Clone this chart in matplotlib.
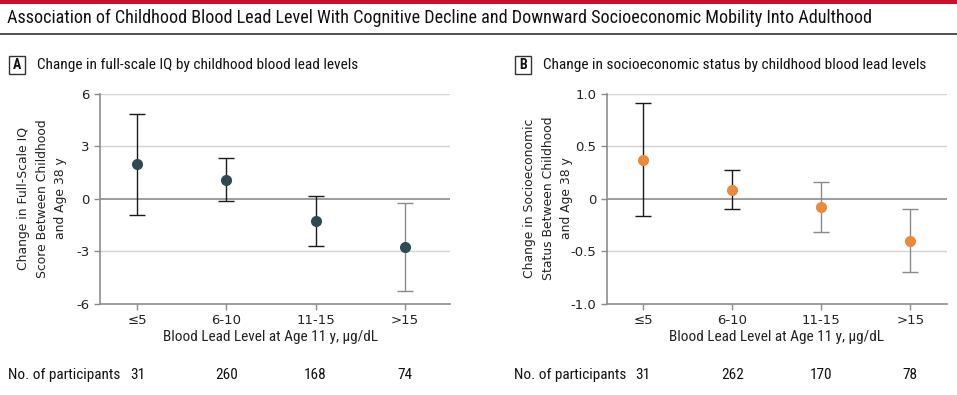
import matplotlib
matplotlib.use("Agg")
import matplotlib.pyplot as plt
from matplotlib import font_manager as fm
from matplotlib.patches import Rectangle
from matplotlib.lines import Line2D

# ---------------- data ----------------
categories = ["≤5", "6-10", "11-15", ">15"]

iq_est = [2.0, 1.1, -1.26, -2.74]
iq_low = [-0.91, -0.15, -2.67, -5.24]
iq_high = [4.86, 2.34, 0.17, -0.23]
iq_n = [31, 260, 168, 74]
iq_ticks = [-6, -3, 0, 3, 6]
iq_ticklabels = ["-6", "-3", "0", "3", "6"]

ses_est = [0.374, 0.086, -0.08, -0.40]
ses_low = [-0.16, -0.095, -0.32, -0.70]
ses_high = [0.91, 0.27, 0.16, -0.095]
ses_n = [31, 262, 170, 78]
ses_ticks = [-1.0, -0.5, 0, 0.5, 1.0]
ses_ticklabels = ["-1.0", "-0.5", "0", "0.5", "1.0"]

title = "Association of Childhood Blood Lead Level With Cognitive Decline and Downward Socioeconomic Mobility Into Adulthood"
panel_a_title = "Change in full-scale IQ by childhood blood lead levels"
panel_b_title = "Change in socioeconomic status by childhood blood lead levels"
xlabel = "Blood Lead Level at Age 11 y, μg/dL"
ylabel_a = "Change in Full-Scale IQ\nScore Between Childhood\nand Age 38 y"
ylabel_b = "Change in Socioeconomic\nStatus Between Childhood\nand Age 38 y"

# ---------------- fonts ----------------
names = {f.name for f in fm.fontManager.ttflist}
cond = "Liberation Sans"
for cand in ["Roboto Condensed", "Liberation Sans Narrow", "Open Sans Condensed", "DejaVu Sans Condensed"]:
    if cand in names:
        cond = cand
        break
tickfont = "DejaVu Sans"

W, H = 957, 395
fig = plt.figure(figsize=(W / 100, H / 100), dpi=100)

def fx(px):
    return px / W

def fy(py):
    return 1 - py / H

# top red bar and title rule
fig.add_artist(Rectangle((0, fy(4)), 1, 4 / H, transform=fig.transFigure,
                         color="#c8102e", lw=0))
fig.add_artist(Line2D([0, 1], [fy(34), fy(34)], transform=fig.transFigure,
                      color="#333333", lw=1.2))
fig.text(fx(7), fy(18), title, family=cond, fontsize=13.1, va="center", ha="left",
         color="#111111")

grid_c = "#d4d4d4"
zero_c = "#8c8c8c"
spine_c = "#8c8c8c"

def panel(left_px, right_px, xlim, est, low, high, ticks, ticklabels, ylim,
          mcolor, barcolors, ylabel, ylabel_x, letter, ptitle, box_x, ns, npart_x):
    ax = fig.add_axes([fx(left_px), fy(304), fx(right_px - left_px), (304 - 93.7) / H])
    x = list(range(len(categories)))
    for i in x:
        ax.errorbar([i], [est[i]], yerr=[[est[i] - low[i]], [high[i] - est[i]]],
                    fmt="none", ecolor=barcolors[i], elinewidth=1.0, capsize=5.5,
                    capthick=1.0, zorder=3)
    ax.plot(x, est, "o", color=mcolor, ms=8, zorder=4, mew=0)
    ax.set_xlim(*xlim)
    ax.set_ylim(*ylim)
    ax.set_yticks(ticks)
    ax.set_yticklabels(ticklabels)
    ax.set_xticks(x)
    ax.set_xticklabels(categories)
    for t in ticks:
        if t == 0:
            ax.axhline(0, color=zero_c, lw=1.2, zorder=1)
        elif t != ticks[0]:
            ax.axhline(t, color=grid_c, lw=1.0, zorder=1)
    for s in ["top", "right"]:
        ax.spines[s].set_visible(False)
    for s in ["left", "bottom"]:
        ax.spines[s].set_color(spine_c)
        ax.spines[s].set_linewidth(1.2)
    ax.tick_params(axis="both", colors=spine_c, length=4, width=1.0,
                   labelcolor="#222222", labelsize=9.5)
    ax.tick_params(axis="x", pad=3)
    for lab in ax.get_xticklabels() + ax.get_yticklabels():
        lab.set_family(tickfont)
    ax.text(1.5, -0.158, xlabel, transform=ax.get_xaxis_transform(), ha="center",
            va="center", family=cond, fontsize=11, color="#222222")
    fig.text(fx(ylabel_x), fy(198.5), ylabel, rotation=90, ha="center", va="center",
             family=tickfont, fontsize=8.9, linespacing=1.55, color="#222222")
    # panel letter box and title
    fig.add_artist(Rectangle((fx(box_x), fy(74)), fx(16), 18 / H, transform=fig.transFigure,
                             fill=False, ec="#333333", lw=1.0))
    fig.text(fx(box_x + 8), fy(65), letter, ha="center", va="center", family=cond,
             fontsize=10, weight="bold", color="#111111")
    fig.text(fx(box_x + 28), fy(65), ptitle, ha="left", va="center", family=cond,
             fontsize=11.1, color="#111111")
    # participants row
    fig.text(fx(npart_x), fy(375), "No. of participants", ha="left", va="center",
             family=cond, fontsize=11, color="#111111")
    for i, n in enumerate(ns):
        ax.text(i, -0.337, str(n), transform=ax.get_xaxis_transform(), ha="center",
                va="center", family=cond, fontsize=11, color="#111111")
    return ax

panel(100, 450, (-0.42, 3.51), iq_est, iq_low, iq_high, iq_ticks, iq_ticklabels,
      (-6, 6), "#2e4a52", ["#1a1a1a", "#1a1a1a", "#1a1a1a", "#8a8a8a"],
      ylabel_a, 42, "A", panel_a_title, 9, iq_n, 8)
panel(606.7, 946.7, (-0.41, 3.41), ses_est, ses_low, ses_high, ses_ticks, ses_ticklabels,
      (-1, 1), "#ea8a3a", ["#1a1a1a", "#1a1a1a", "#8a8a8a", "#8a8a8a"],
      ylabel_b, 548, "B", panel_b_title, 515, ses_n, 514)

fig.savefig("out.png", dpi=100)
